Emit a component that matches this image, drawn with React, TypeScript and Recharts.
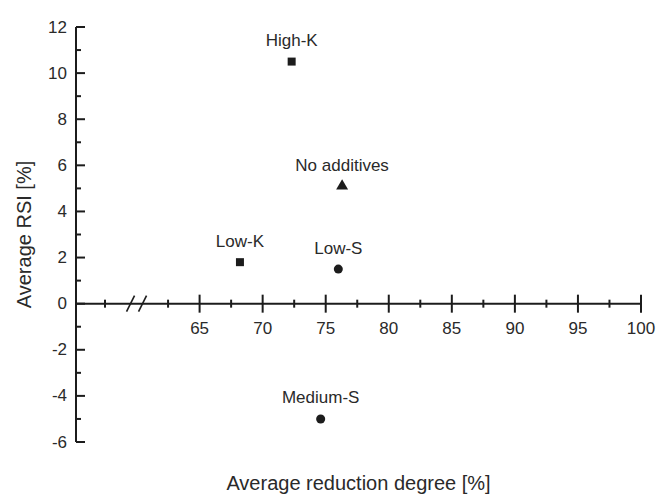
import { ScatterChart, Scatter, XAxis, YAxis, ReferenceLine, ReferenceDot, LabelList, Symbols } from 'recharts'

const FONT = '"Liberation Sans", Arial, Helvetica, sans-serif'
const INK = '#1c1c1c'
const TXT = '#2a2a2a'

// points, grouped by marker shape
const squareNames = ['High-K', 'Low-K']
const squareX = [72.3, 68.2]
const squareY = [10.5, 1.8]

const circleNames = ['Low-S', 'Medium-S']
const circleX = [76.0, 74.6]
const circleY = [1.5, -5.0]

const triangleNames = ['No additives']
const triangleX = [76.3]
const triangleY = [5.1]

// axes
const xDomain = [55.2, 100]
const yDomain = [-6, 12]
const xMajorTicks = [65, 70, 75, 80, 85, 90, 95, 100]
const xMinorTicks = [57.5, 62.5, 67.5, 72.5, 77.5, 82.5, 87.5, 92.5, 97.5]
const xBreakAt = 60
const yTicks = [-6, -5, -4, -3, -2, -1, 0, 1, 2, 3, 4, 5, 6, 7, 8, 9, 10, 11, 12]

const toPoints = (names: string[], xs: number[], ys: number[]) =>
  names.map((name, i) => ({ name, x: xs[i], y: ys[i] }))

const squares = toPoints(squareNames, squareX, squareY)
const circles = toPoints(circleNames, circleX, circleY)
const triangles = toPoints(triangleNames, triangleX, triangleY)

const marker = (type: any, size: number) => (p: any) =>
  <Symbols cx={p.cx} cy={p.cy} type={type} size={size} fill={INK} />

const YTick = ({ x, y, payload }: any) => {
  const major = payload.value % 2 === 0
  return (
    <g>
      <line x1={x} x2={x + (major ? 9 : 5)} y1={y} y2={y} stroke={INK} strokeWidth={2} />
      {major && (
        <text x={x - 9} y={y} textAnchor="end" dominantBaseline="central" fontSize={17} fontFamily={FONT} fill={TXT}>
          {payload.value}
        </text>
      )}
    </g>
  )
}

const majorTick = (v: number) => (p: any) => (
  <g>
    <line x1={p.cx} x2={p.cx} y1={p.cy - 9} y2={p.cy + 9} stroke={INK} strokeWidth={2} />
    <text x={p.cx} y={p.cy + 30} textAnchor="middle" fontSize={17} fontFamily={FONT} fill={TXT}>{v}</text>
  </g>
)

const minorTick = (p: any) => (
  <line x1={p.cx} x2={p.cx} y1={p.cy - 4} y2={p.cy + 4} stroke={INK} strokeWidth={2} />
)

const breakMark = (p: any) => (
  <g stroke={INK} strokeWidth={1.6}>
    <line x1={p.cx - 10} y1={p.cy + 8} x2={p.cx - 2} y2={p.cy - 8} />
    <line x1={p.cx + 2} y1={p.cy + 8} x2={p.cx + 10} y2={p.cy - 8} />
  </g>
)

const XTitle = ({ viewBox }: any) => (
  <text x={viewBox.x + viewBox.width / 2} y={viewBox.y + 48} textAnchor="middle" fontSize={20} fontFamily={FONT} fill={TXT}>
    Average reduction degree [%]
  </text>
)

const YTitle = ({ viewBox }: any) => {
  const cx = 31
  const cy = viewBox.y + viewBox.height / 2
  return (
    <text x={cx} y={cy} transform={`rotate(-90, ${cx}, ${cy})`} textAnchor="middle" fontSize={20} fontFamily={FONT} fill={TXT}>
      Average RSI [%]
    </text>
  )
}

const PointLabel = (p: any) => (
  <text x={p.x + p.width / 2} y={p.y - 11} textAnchor="middle" fontSize={17} fontFamily={FONT} fill={TXT}>
    {p.value}
  </text>
)

export default function App() {
  return (
    <div style={{ position: 'absolute', left: 0, top: 0, width: 661, height: 498, background: '#fff' }}>
      <ScatterChart width={661} height={498} margin={{ top: 27, right: 20, bottom: 0, left: 0 }}>
        <XAxis type="number" dataKey="x" domain={xDomain} allowDataOverflow height={56}
          tick={false} tickLine={false} axisLine={false} label={{ content: XTitle }} />
        <YAxis type="number" dataKey="y" domain={yDomain} allowDataOverflow ticks={yTicks} interval={0} width={76}
          tickSize={0} tickMargin={0} tickLine={false} axisLine={{ stroke: INK, strokeWidth: 2 }}
          tick={YTick} label={{ content: YTitle }} />

        <ReferenceLine y={0} stroke={INK} strokeWidth={2} />
        {xMinorTicks.map(v => <ReferenceDot key={'m' + v} x={v} y={0} r={1} shape={minorTick} />)}
        {xMajorTicks.map(v => <ReferenceDot key={'M' + v} x={v} y={0} r={1} shape={majorTick(v)} />)}
        <ReferenceDot x={xBreakAt} y={0} r={1} shape={breakMark} />

        <Scatter data={squares} shape={marker('square', 64)} isAnimationActive={false}>
          <LabelList dataKey="name" content={PointLabel} />
        </Scatter>
        <Scatter data={circles} shape={marker('circle', 64)} isAnimationActive={false}>
          <LabelList dataKey="name" content={PointLabel} />
        </Scatter>
        <Scatter data={triangles} shape={marker('triangle', 62)} isAnimationActive={false}>
          <LabelList dataKey="name" content={PointLabel} />
        </Scatter>
      </ScatterChart>
    </div>
  )
}
